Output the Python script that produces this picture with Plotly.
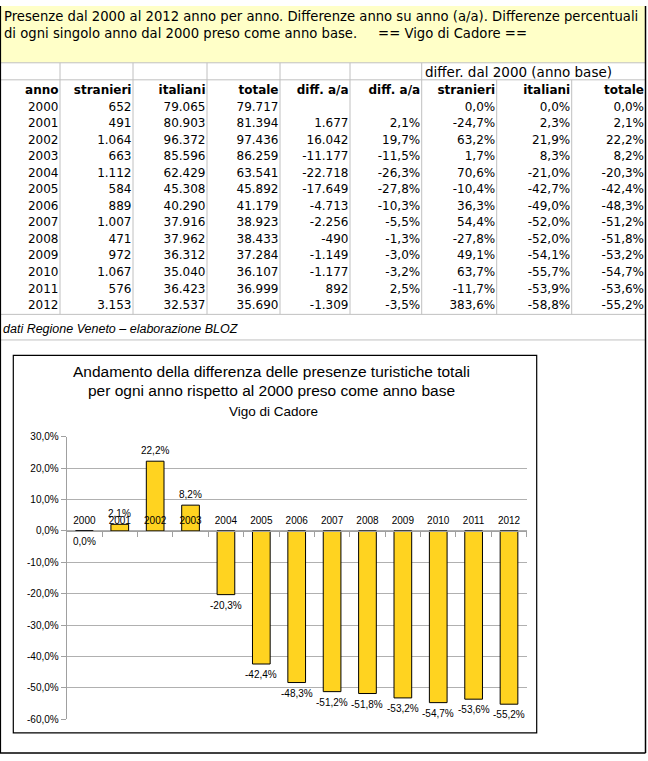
import plotly.graph_objects as go

# ---------------- data ----------------
years = [2000, 2001, 2002, 2003, 2004, 2005, 2006, 2007, 2008, 2009, 2010, 2011, 2012]
stranieri = [652, 491, 1064, 663, 1112, 584, 889, 1007, 471, 972, 1067, 576, 3153]
italiani = [79065, 80903, 96372, 85596, 62429, 45308, 40290, 37916, 37962, 36312, 35040, 36423, 32537]
totale = [79717, 81394, 97436, 86259, 63541, 45892, 41179, 38923, 38433, 37284, 36107, 36999, 35690]
diff_aa = [None, 1677, 16042, -11177, -22718, -17649, -4713, -2256, -490, -1149, -1177, 892, -1309]
diff_aa_pct = [None, 2.1, 19.7, -11.5, -26.3, -27.8, -10.3, -5.5, -1.3, -3.0, -3.2, 2.5, -3.5]
diff2000_stranieri = [0.0, -24.7, 63.2, 1.7, 70.6, -10.4, 36.3, 54.4, -27.8, 49.1, 63.7, -11.7, 383.6]
diff2000_italiani = [0.0, 2.3, 21.9, 8.3, -21.0, -42.7, -49.0, -52.0, -52.0, -54.1, -55.7, -53.9, -58.8]
diff2000_totale = [0.0, 2.1, 22.2, 8.2, -20.3, -42.4, -48.3, -51.2, -51.8, -53.2, -54.7, -53.6, -55.2]

header_cols = ["anno", "stranieri", "italiani", "totale", "diff. a/a", "diff. a/a",
               "stranieri", "italiani", "totale"]
group_header = "differ. dal 2000 (anno base)"
box_title = ("Presenze dal 2000 al 2012 anno per anno. Differenze anno su anno (a/a). Differenze percentuali<br>"
             "di ogni singolo anno dal 2000 preso come anno base.     == Vigo di Cadore ==")
source_note = "dati Regione Veneto \u2013 elaborazione BLOZ"
chart_title = ["Andamento della differenza delle presenze turistiche totali",
               "per ogni anno rispetto al 2000 preso come anno base"]
chart_subtitle = "Vigo di Cadore"
y_ticks = [30, 20, 10, 0, -10, -20, -30, -40, -50, -60]

# ---------------- helpers ----------------
def fmt_int(v):
    return "" if v is None else f"{v:,}".replace(",", ".")

def fmt_pct(v):
    return "" if v is None else f"{v:.1f}".replace(".", ",") + "%"

W, H = 648, 761
TABLE_FONT = "DejaVu Sans"
CHART_FONT = "Liberation Sans"
GRID = "#C0C0C0"
AXIS_GRAY = "#A0A0A0"

# column right edges (pixels) of the sheet
col_edges = [0, 60, 133, 207, 280, 350, 421.7, 496.7, 571.7, 645.5]
row0_center = 103.3
row_h = 16.8
row_centers = [row0_center + i * row_h for i in range(len(years))]

fig = go.Figure()

# ---------------- bar chart ----------------
Y_TOP_PIX, Y_BOT_PIX = 437.6, 724.7   # pixel rows of +30% and -60%
X_LEFT_PIX, X_RIGHT_PIX = 66.7, 526.7
ydom = [1 - Y_BOT_PIX / H, 1 - Y_TOP_PIX / H]
xdom = [X_LEFT_PIX / W, X_RIGHT_PIX / W]
y_min, y_max = -0.6, 0.3
zero_paper = ydom[0] + (0 - y_min) / (y_max - y_min) * (ydom[1] - ydom[0])

vals = [v / 100 for v in diff2000_totale]
fig.add_trace(go.Bar(
    x=years, y=vals, width=0.5,
    marker=dict(color="#FFD320", line=dict(color="black", width=1)),
    hoverinfo="skip", showlegend=False))

for yr, v in zip(years, diff2000_totale):
    fig.add_annotation(x=yr, y=v / 100, xref="x", yref="y", text=fmt_pct(v),
                       showarrow=False, yshift=10.5 if v > 0 else -10.5,
                       xanchor="center", yanchor="middle",
                       font=dict(family=CHART_FONT, size=10, color="black"))

# ---------------- table as text marks on a pixel axis ----------------
columns = [
    [str(y) for y in years],
    [fmt_int(v) for v in stranieri],
    [fmt_int(v) for v in italiani],
    [fmt_int(v) for v in totale],
    [fmt_int(v) for v in diff_aa],
    [fmt_pct(v) for v in diff_aa_pct],
    [fmt_pct(v) for v in diff2000_stranieri],
    [fmt_pct(v) for v in diff2000_italiani],
    [fmt_pct(v) for v in diff2000_totale],
]
PAD = 1.5
for ci, col in enumerate(columns):
    xr = col_edges[ci + 1] - PAD
    fig.add_trace(go.Scatter(
        x=[xr] * len(col), y=row_centers, text=col, mode="text",
        textposition="middle left", xaxis="x2", yaxis="y2",
        textfont=dict(family=TABLE_FONT, size=12, color="black"),
        hoverinfo="skip", showlegend=False))

# header row
fig.add_trace(go.Scatter(
    x=[col_edges[i + 1] - PAD for i in range(len(header_cols))],
    y=[86.0] * len(header_cols), text=[f"<b>{h}</b>" for h in header_cols],
    mode="text", textposition="middle left", xaxis="x2", yaxis="y2",
    textfont=dict(family=TABLE_FONT, size=12, color="black"),
    hoverinfo="skip", showlegend=False))

# group header + title box + note
fig.add_annotation(x=423, y=67.5, xref="x2", yref="y2", text=group_header,
                   showarrow=False, xanchor="left", yanchor="middle",
                   font=dict(family=TABLE_FONT, size=13.5, color="black"))
fig.add_annotation(x=2, y=19, xref="x2", yref="y2", text=box_title,
                   showarrow=False, xanchor="left", yanchor="middle", align="left",
                   font=dict(family=TABLE_FONT, size=13.2, color="black"))
fig.add_annotation(x=1, y=328, xref="x2", yref="y2", text=source_note,
                   showarrow=False, xanchor="left", yanchor="middle",
                   font=dict(family=CHART_FONT, size=12.5, color="black", style="italic"))

for i, line in enumerate(chart_title):
    fig.add_annotation(x=271, y=371.7 + i * 19, xref="x2", yref="y2", text=line,
                       showarrow=False, xanchor="center", yanchor="middle",
                       font=dict(family=CHART_FONT, size=15.5, color="black"))
fig.add_annotation(x=273.5, y=411.7, xref="x2", yref="y2", text=chart_subtitle,
                   showarrow=False, xanchor="center", yanchor="middle",
                   font=dict(family=CHART_FONT, size=13.5, color="black"))

shapes = []
# yellow title box
shapes.append(dict(type="rect", xref="paper", yref="paper", x0=0, x1=645.5 / W,
                   y0=1 - 57.7 / H, y1=1,
                   fillcolor="#FFFFC8", line=dict(width=0), layer="below"))
# horizontal sheet lines
for yy in [57.7, 75, 313.3, 339.3]:
    shapes.append(dict(type="line", xref="x2", yref="y2", x0=0, x1=645.5, y0=yy, y1=yy,
                       line=dict(color=GRID, width=1), layer="above"))
# vertical sheet lines
for xe in col_edges[1:-1]:
    top = 57.7 if xe < 480 else 75
    shapes.append(dict(type="line", xref="x2", yref="y2", x0=xe, x1=xe, y0=top, y1=313.3,
                       line=dict(color=GRID, width=1), layer="above"))
# outer frame
shapes.append(dict(type="line", xref="x2", yref="y2", x0=0.5, x1=0.5, y0=0, y1=759,
                   line=dict(color="black", width=1.2), layer="above"))
shapes.append(dict(type="line", xref="x2", yref="y2", x0=645.5, x1=645.5, y0=0, y1=759,
                   line=dict(color="black", width=1.5), layer="above"))
shapes.append(dict(type="line", xref="x2", yref="y2", x0=0, x1=645.5, y0=759, y1=759,
                   line=dict(color="black", width=1.5), layer="above"))
# chart object box
shapes.append(dict(type="rect", xref="x2", yref="y2", x0=13.3, x1=536.7, y0=355, y1=738.5,
                   line=dict(color="black", width=1.2), layer="above"))

fig.update_layout(
    width=W, height=H, margin=dict(l=0, r=0, t=0, b=0),
    paper_bgcolor="white", plot_bgcolor="rgba(0,0,0,0)",
    shapes=shapes,
    xaxis=dict(domain=xdom, range=[years[0] - 0.5, years[-1] + 0.5],
               anchor="free", position=zero_paper, side="top",
               tickvals=years, ticktext=[str(y) for y in years], ticks="",
               ticklabelstandoff=3,
               minor=dict(tickvals=[y - 0.5 for y in years] + [years[-1] + 0.5],
                          ticks="inside", ticklen=5, tickcolor=AXIS_GRAY, showgrid=False),
               showline=True, linecolor=AXIS_GRAY, linewidth=1,
               showgrid=False, tickfont=dict(family=CHART_FONT, size=10, color="black"),
               fixedrange=True),
    yaxis=dict(domain=ydom, range=[y_min, y_max], tickvals=[t / 100 for t in y_ticks],
               ticktext=[fmt_pct(t) for t in y_ticks], showgrid=True, gridcolor="#B0B0B0",
               gridwidth=1, ticks="outside", ticklen=5, tickcolor=AXIS_GRAY,
               showline=True, linecolor=AXIS_GRAY, zeroline=False,
               tickfont=dict(family=CHART_FONT, size=10, color="black"), fixedrange=True),
    xaxis2=dict(domain=[0, 1], range=[0, W], visible=False, anchor="y2", fixedrange=True),
    yaxis2=dict(domain=[0, 1], range=[H, 0], visible=False, anchor="x2", fixedrange=True),
)

post = ("document.documentElement.style.margin='0';"
        "document.documentElement.style.overflow='hidden';"
        "document.body.style.margin='0';"
        "document.body.style.overflow='hidden';"
        "document.body.style.lineHeight='0';"
        "document.querySelectorAll('.svg-container').forEach(function(e){e.style.display='block';});")
fig.write_html("out.html", config={"displayModeBar": False}, post_script=post)
